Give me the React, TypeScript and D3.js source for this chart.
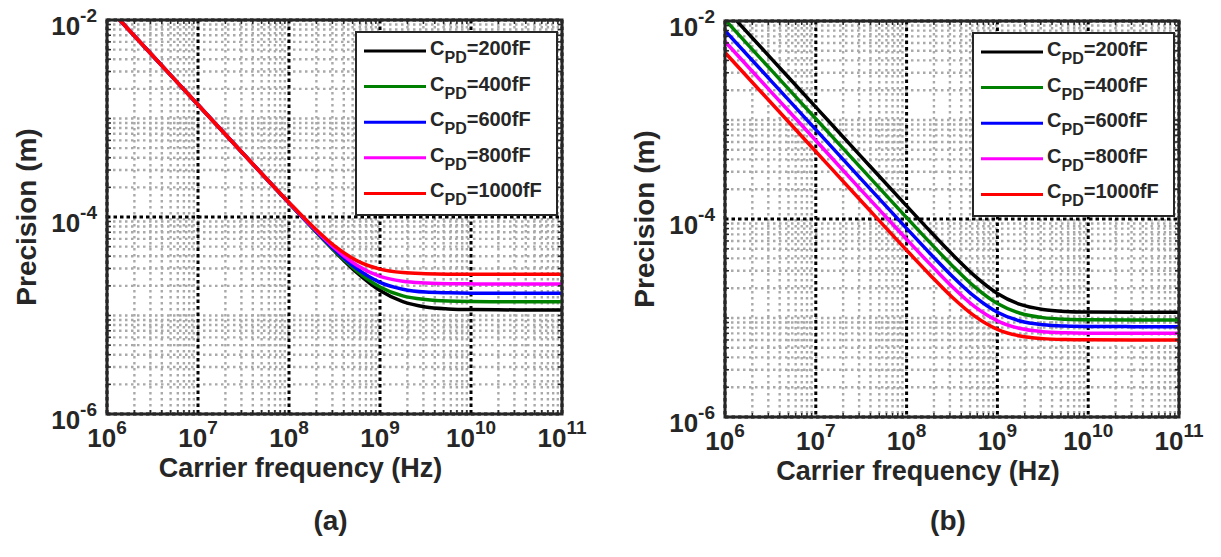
import React from "react";
import * as d3 from "d3";

// ---------- data ----------
const freqs = [1e6, 3.16e6, 1e7, 3.16e7, 1e8, 1.78e8, 3.16e8, 5.62e8, 1e9, 1.78e9, 3.16e9, 5.62e9, 1e10, 3.16e10, 1e11];

const seriesNames = ["200fF", "400fF", "600fF", "800fF", "1000fF"];
const seriesColors = ["#000000", "#008000", "#0000ff", "#ff00ff", "#ff0000"];

// panel (a)
const a200 = [1.38e-2, 4.36e-3, 1.38e-3, 4.36e-4, 1.385e-4, 7.84e-5, 4.51e-5, 2.7e-5, 1.79e-5, 1.38e-5, 1.22e-5, 1.166e-5, 1.148e-5, 1.14e-5, 1.14e-5];
const a400 = [1.38e-2, 4.36e-3, 1.38e-3, 4.36e-4, 1.387e-4, 7.88e-5, 4.57e-5, 2.81e-5, 1.95e-5, 1.58e-5, 1.45e-5, 1.4e-5, 1.387e-5, 1.38e-5, 1.38e-5];
const a600 = [1.38e-2, 4.36e-3, 1.38e-3, 4.36e-4, 1.39e-4, 7.94e-5, 4.67e-5, 2.97e-5, 2.17e-5, 1.85e-5, 1.73e-5, 1.7e-5, 1.686e-5, 1.68e-5, 1.68e-5];
const a800 = [1.38e-2, 4.36e-3, 1.38e-3, 4.36e-4, 1.396e-4, 8.04e-5, 4.84e-5, 3.22e-5, 2.5e-5, 2.23e-5, 2.14e-5, 2.1e-5, 2.095e-5, 2.09e-5, 2.09e-5];
const a1000 = [1.38e-2, 4.36e-3, 1.38e-3, 4.36e-4, 1.405e-4, 8.19e-5, 5.09e-5, 3.59e-5, 2.96e-5, 2.73e-5, 2.66e-5, 2.63e-5, 2.624e-5, 2.62e-5, 2.62e-5];

// panel (b)
const b200 = [1.35e-2, 4.27e-3, 1.35e-3, 4.27e-4, 1.355e-4, 7.67e-5, 4.42e-5, 2.66e-5, 1.77e-5, 1.37e-5, 1.22e-5, 1.165e-5, 1.148e-5, 1.14e-5, 1.14e-5];
const b400 = [1.03e-2, 3.26e-3, 1.03e-3, 3.26e-4, 1.034e-4, 5.87e-5, 3.4e-5, 2.06e-5, 1.4e-5, 1.117e-5, 1.009e-5, 9.72e-6, 9.61e-6, 9.56e-6, 9.55e-6];
const b600 = [8.0e-3, 2.53e-3, 8.0e-4, 2.53e-4, 8.04e-5, 4.57e-5, 2.66e-5, 1.64e-5, 1.143e-5, 9.32e-6, 8.55e-6, 8.29e-6, 8.21e-6, 8.18e-6, 8.17e-6];
const b800 = [6.2e-3, 1.96e-3, 6.2e-4, 1.96e-4, 6.24e-5, 3.56e-5, 2.08e-5, 1.3e-5, 9.35e-6, 7.82e-6, 7.27e-6, 7.09e-6, 7.03e-6, 7.0e-6, 7.0e-6];
const b1000 = [4.8e-3, 1.52e-3, 4.8e-4, 1.52e-4, 4.84e-5, 2.77e-5, 1.63e-5, 1.044e-5, 7.68e-6, 6.58e-6, 6.19e-6, 6.06e-6, 6.02e-6, 6.0e-6, 6.0e-6];

const xTickExps = [6, 7, 8, 9, 10, 11];
const yTickExps = [-6, -4, -2];
const xLabel = "Carrier frequency (Hz)";
const yLabel = "Precision (m)";

const FONT = "'Liberation Sans', Arial, Helvetica, sans-serif";
const TXT = "#262626";

type PanelProps = {
  id: string;
  x0: number; x1: number; y0: number; y1: number;
  series: number[][];
  tag: string;
};

function Panel({ id, x0, x1, y0, y1, series, tag }: PanelProps) {
  const x = d3.scaleLog().domain([1e6, 1e11]).range([x0, x1]);
  const y = d3.scaleLog().domain([1e-6, 1e-2]).range([y1, y0]);

  const xMinor: number[] = [];
  for (let k = 6; k < 11; k++) for (let m = 2; m <= 9; m++) xMinor.push(m * Math.pow(10, k));
  const yMinor: number[] = [];
  for (let k = -6; k < -2; k++)
    for (let m = 1; m <= 9; m++) {
      if (m === 1 && yTickExps.includes(k)) continue;
      yMinor.push(m * Math.pow(10, k));
    }

  const line = d3
    .line<[number, number]>()
    .x((d) => x(d[0]))
    .y((d) => y(d[1]))
    .curve(d3.curveMonotoneX);

  const lx1 = x1 - 5;
  const lw = 201;
  const lx0 = lx1 - lw;
  const ly0 = y0 + 12;
  const lh = 183;

  return (
    <g>
      <defs>
        <clipPath id={`clip-${id}`}>
          <rect x={x0} y={y0} width={x1 - x0} height={y1 - y0} />
        </clipPath>
      </defs>
      <rect x={x0} y={y0} width={x1 - x0} height={y1 - y0} fill="#fff" />
      {/* minor grid */}
      {xMinor.map((v, i) => (
        <line key={`xm${i}`} x1={x(v)} x2={x(v)} y1={y0} y2={y1} stroke="#a9a9a9" strokeWidth={2.4} strokeDasharray="2.5 3.5" />
      ))}
      {yMinor.map((v, i) => (
        <line key={`ym${i}`} x1={x0} x2={x1} y1={y(v)} y2={y(v)} stroke="#a9a9a9" strokeWidth={2.4} strokeDasharray="2.5 3.5" />
      ))}
      {/* major grid */}
      {xTickExps.map((e) => (
        <line key={`xM${e}`} x1={x(Math.pow(10, e))} x2={x(Math.pow(10, e))} y1={y0} y2={y1} stroke="#000" strokeWidth={3} strokeDasharray="3.5 3" />
      ))}
      {yTickExps.map((e) => (
        <line key={`yM${e}`} x1={x0} x2={x1} y1={y(Math.pow(10, e))} y2={y(Math.pow(10, e))} stroke="#000" strokeWidth={3} strokeDasharray="3.5 3" />
      ))}
      {/* data */}
      <g clipPath={`url(#clip-${id})`}>
        {series.map((s, i) => (
          <path
            key={`s${i}`}
            d={line(freqs.map((f, j) => [f, s[j]] as [number, number])) || ""}
            fill="none"
            stroke={seriesColors[i]}
            strokeWidth={3.5}
          />
        ))}
      </g>
      {/* ticks */}
      {xMinor.map((v, i) => (
        <g key={`xt${i}`} stroke={TXT} strokeWidth={1.5}>
          <line x1={x(v)} x2={x(v)} y1={y1} y2={y1 - 4} />
          <line x1={x(v)} x2={x(v)} y1={y0} y2={y0 + 4} />
        </g>
      ))}
      {yMinor.map((v, i) => (
        <g key={`yt${i}`} stroke={TXT} strokeWidth={1.5}>
          <line x1={x0} x2={x0 + 4} y1={y(v)} y2={y(v)} />
          <line x1={x1} x2={x1 - 4} y1={y(v)} y2={y(v)} />
        </g>
      ))}
      {/* border */}
      <rect x={x0} y={y0} width={x1 - x0} height={y1 - y0} fill="none" stroke={TXT} strokeWidth={3} />
      {/* legend */}
      <rect x={lx0} y={ly0} width={lw} height={lh} fill="#fff" stroke={TXT} strokeWidth={2} />
      {seriesNames.map((n, i) => {
        const ry = ly0 + 19 + i * 35.6;
        return (
          <g key={`lg${i}`}>
            <line x1={lx0 + 8} x2={lx0 + 70} y1={ry} y2={ry} stroke={seriesColors[i]} strokeWidth={3} />
            <text x={lx0 + 74} y={ry + 4} fontFamily={FONT} fontWeight="bold" fontSize={20} fill={TXT}>
              <tspan>C</tspan>
              <tspan dy={8} fontSize={16}>PD</tspan>
              <tspan dy={-8}>={n}</tspan>
            </text>
          </g>
        );
      })}
      {/* tick labels */}
      {xTickExps.map((e) => (
        <text key={`xl${e}`} x={x(Math.pow(10, e))} y={y1 + 33} textAnchor="middle" fontFamily={FONT} fontWeight="bold" fontSize={26} fill={TXT}>
          <tspan>10</tspan>
          <tspan dy={-13} fontSize={19}>{e}</tspan>
        </text>
      ))}
      {yTickExps.map((e) => (
        <text key={`yl${e}`} x={x0 - 10} y={y(Math.pow(10, e)) + 15} textAnchor="end" fontFamily={FONT} fontWeight="bold" fontSize={26} fill={TXT}>
          <tspan>10</tspan>
          <tspan dy={-13.3} fontSize={19}>{e}</tspan>
        </text>
      ))}
      {/* axis labels */}
      <text x={(x0 + x1) / 2 - 34} y={y1 + 63} textAnchor="middle" fontFamily={FONT} fontWeight="bold" fontSize={27} fill={TXT}>
        {xLabel}
      </text>
      <text
        transform={`translate(${x0 - 71},${(y0 + y1) / 2}) rotate(-90)`}
        textAnchor="middle"
        fontFamily={FONT}
        fontWeight="bold"
        fontSize={28}
        fill={TXT}
      >
        {yLabel}
      </text>
      <text x={(x0 + x1) / 2 - 4} y={530} textAnchor="middle" fontFamily={FONT} fontWeight="bold" fontSize={28} fill={TXT}>
        {tag}
      </text>
    </g>
  );
}

export default function App() {
  return (
    <svg
      width={1221}
      height={557}
      style={{ position: "absolute", left: 0, top: 0, background: "#fff", display: "block" }}
    >
      <Panel id="a" x0={107} x1={562} y0={20} y1={414} series={[a200, a400, a600, a800, a1000]} tag="(a)" />
      <Panel id="b" x0={725} x1={1179} y0={21} y1={417} series={[b200, b400, b600, b800, b1000]} tag="(b)" />
    </svg>
  );
}
